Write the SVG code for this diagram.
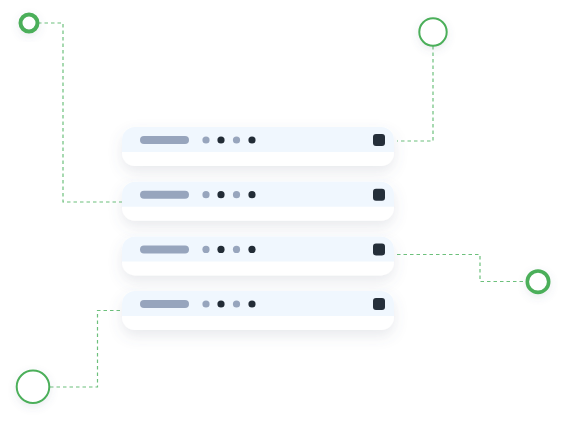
<svg xmlns="http://www.w3.org/2000/svg" width="566" height="423" viewBox="0 0 566 423">
  <defs>
    <filter id="cardShadow" x="-20%" y="-60%" width="140%" height="240%">
      <feDropShadow dx="0" dy="6" stdDeviation="7" flood-color="#5a6b85" flood-opacity="0.14"/>
    </filter>
    <filter id="dotShadow" x="-60%" y="-60%" width="220%" height="220%">
      <feDropShadow dx="0" dy="3" stdDeviation="4" flood-color="#5a6b85" flood-opacity="0.12"/>
    </filter>
    <style>
      .card { fill: #ffffff; filter: url(#cardShadow); }
      .band { fill: #F0F7FE; }
      .pill { fill: #97A5BD; }
      .lt { fill: #97A5BD; }
      .dk { fill: #222C36; }
      .sq { fill: #252F3A; }
      .conn { fill: none; stroke: #6DC07C; stroke-width: 1.2; stroke-dasharray: 3.5 3; }
      .ring { fill: #ffffff; stroke: #4CAF5A; filter: url(#dotShadow); }
    </style>
    <g id="row">
      <rect class="card" x="0" y="0" width="272" height="39" rx="13"/>
      <path class="band" d="M0,13 A13,13 0 0 1 13,0 H259 A13,13 0 0 1 272,13 V25 H0 Z"/>
      <rect class="pill" x="18" y="9" width="49" height="8" rx="4"/>
      <circle class="lt" cx="84" cy="13" r="3.6"/>
      <circle class="dk" cx="99" cy="13" r="3.6"/>
      <circle class="lt" cx="114.5" cy="13" r="3.6"/>
      <circle class="dk" cx="130" cy="13" r="3.6"/>
      <rect class="sq" x="251" y="7" width="12" height="12" rx="3"/>
    </g>
  </defs>

  <g id="connectors">
    <path class="conn" d="M38,23 H63 V202 H122"/>
    <path class="conn" d="M433,46 V141 H397"/>
    <path class="conn" d="M397,254.5 H480 V281.5 H526"/>
    <path class="conn" d="M50,387 H97.5 V310.5 H122"/>
  </g>

  <g id="card1"><use href="#row" x="122" y="127"/></g>
  <g id="card2"><use href="#row" x="122" y="181.7"/></g>
  <g id="card3"><use href="#row" x="122" y="236.4"/></g>
  <g id="card4"><use href="#row" x="122" y="291"/></g>

  <g id="node-top-left"><circle class="ring" cx="29" cy="23" r="8.5" stroke-width="4"/></g>
  <g id="node-top-right"><circle class="ring" cx="433" cy="32" r="13.7" stroke-width="2"/></g>
  <g id="node-right"><circle class="ring" cx="538" cy="281.7" r="10.7" stroke-width="3.6"/></g>
  <g id="node-bottom-left"><circle class="ring" cx="33" cy="386.7" r="16.3" stroke-width="2"/></g>
</svg>
